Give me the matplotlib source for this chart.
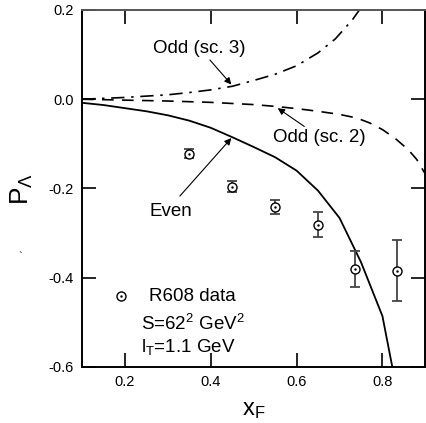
import matplotlib
matplotlib.use("Agg")
import matplotlib.pyplot as plt

plt.rcParams['font.family'] = ['Liberation Sans', 'DejaVu Sans']
plt.rcParams['mathtext.fontset'] = 'custom'
plt.rcParams['mathtext.rm'] = 'Liberation Sans'
plt.rcParams['mathtext.it'] = 'Liberation Sans'
plt.rcParams['mathtext.bf'] = 'Liberation Sans'

# Data (R608)
data_x = [0.35, 0.45, 0.55, 0.65, 0.735, 0.834]
data_y = [-0.122, -0.196, -0.241, -0.281, -0.380, -0.384]
data_err = [0.010, 0.012, 0.016, 0.028, 0.040, 0.068]

# Even curve
even_x = [0.10, 0.15, 0.20, 0.25, 0.30, 0.35, 0.40, 0.45, 0.50, 0.55, 0.60, 0.65, 0.70, 0.75, 0.80, 0.823]
even_y = [-0.008, -0.013, -0.020, -0.027, -0.036, -0.048, -0.064, -0.085, -0.107, -0.130, -0.160, -0.205, -0.266, -0.365, -0.486, -0.60]

# Odd (sc. 3) curve
odd3_x = [0.10, 0.20, 0.30, 0.35, 0.40, 0.45, 0.50, 0.55, 0.60, 0.65, 0.69, 0.73, 0.75]
odd3_y = [0.0, 0.004, 0.010, 0.015, 0.021, 0.029, 0.042, 0.056, 0.075, 0.104, 0.135, 0.178, 0.205]

# Odd (sc. 2) curve
odd2_x = [0.10, 0.20, 0.30, 0.40, 0.50, 0.55, 0.60, 0.65, 0.70, 0.74, 0.77, 0.80, 0.83, 0.86, 0.88, 0.90]
odd2_y = [0.0, -0.002, -0.004, -0.007, -0.012, -0.016, -0.021, -0.027, -0.034, -0.042, -0.053, -0.068, -0.088, -0.113, -0.135, -0.168]

fig = plt.figure(figsize=(4.26, 4.23), dpi=100)
ax = fig.add_axes([0.1925, 0.1324, 0.806, 0.844])

ax.plot(even_x, even_y, color='black', lw=1.3)
ax.plot(odd3_x, odd3_y, color='black', lw=1.2, dashes=(8, 4, 1.5, 4))
ax.plot(odd2_x, odd2_y, color='black', lw=1.2, dashes=(7, 5))

ax.errorbar(data_x, data_y, yerr=data_err, fmt='none', ecolor='#444444',
            elinewidth=1.3, capsize=3.5, capthick=1.3, zorder=3)
ax.plot(data_x, data_y, 'o', ms=6.5, mfc='white', mec='black', mew=1.0, zorder=4)
ax.plot(data_x, data_y, '.', ms=1.5, color='black', zorder=5)

arrow = dict(arrowstyle='-|>', color='black', lw=0.8, mutation_scale=10,
             shrinkA=0, shrinkB=0)

# annotations
ax.text(0.374, 0.113, 'Odd (sc. 3)', fontsize=13.5, ha='center', va='center')
ax.annotate('', xy=(0.448, 0.033), xytext=(0.398, 0.088), arrowprops=arrow)
ax.text(0.652, -0.086, 'Odd (sc. 2)', fontsize=13.5, ha='center', va='center')
ax.annotate('', xy=(0.556, -0.020), xytext=(0.618, -0.061), arrowprops=arrow)
ax.text(0.307, -0.252, 'Even', fontsize=13.5, ha='center', va='center')
ax.annotate('', xy=(0.448, -0.087), xytext=(0.328, -0.217), arrowprops=arrow)

# legend-like text
ax.plot([0.192], [-0.442], 'o', ms=6.5, mfc='white', mec='black', mew=1.0)
ax.plot([0.192], [-0.442], '.', ms=1.5, color='black')
ax.text(0.255, -0.442, 'R608 data', fontsize=13.5, va='center', ha='left')
ax.text(0.238, -0.503, r'S=62$^2$ GeV$^2$', fontsize=13.5, va='center', ha='left')
ax.text(0.238, -0.556, r'l$_\mathrm{T}$=1.1 GeV', fontsize=13.5, va='center', ha='left')

ax.set_xlim(0.1, 0.9)
ax.set_ylim(-0.6, 0.2)
ax.set_xticks([0.2, 0.4, 0.6, 0.8])
ax.set_xticklabels(['0.2', '0.4', '0.6', '0.8'])
ax.set_yticks([-0.6, -0.4, -0.2, 0.0, 0.2])
ax.set_yticklabels(['-0.6', '-0.4', '-0.2', '0.0', '0.2'])
ax.tick_params(direction='in', length=10, width=1.2, labelsize=10.5,
               top=True, right=True, pad=6)
for s in ax.spines.values():
    s.set_linewidth(1.4)
ax.spines['top'].set_color('#555555')

ax.set_xlabel(r'x$_\mathrm{F}$', fontsize=17, labelpad=7)
ax.set_ylabel(r'P$_\Lambda$', fontsize=19, labelpad=10)

fig.text(20 / 426, 1 - 257 / 423, '`', fontsize=8, ha='center', va='center')

fig.savefig('out.png', dpi=100)
